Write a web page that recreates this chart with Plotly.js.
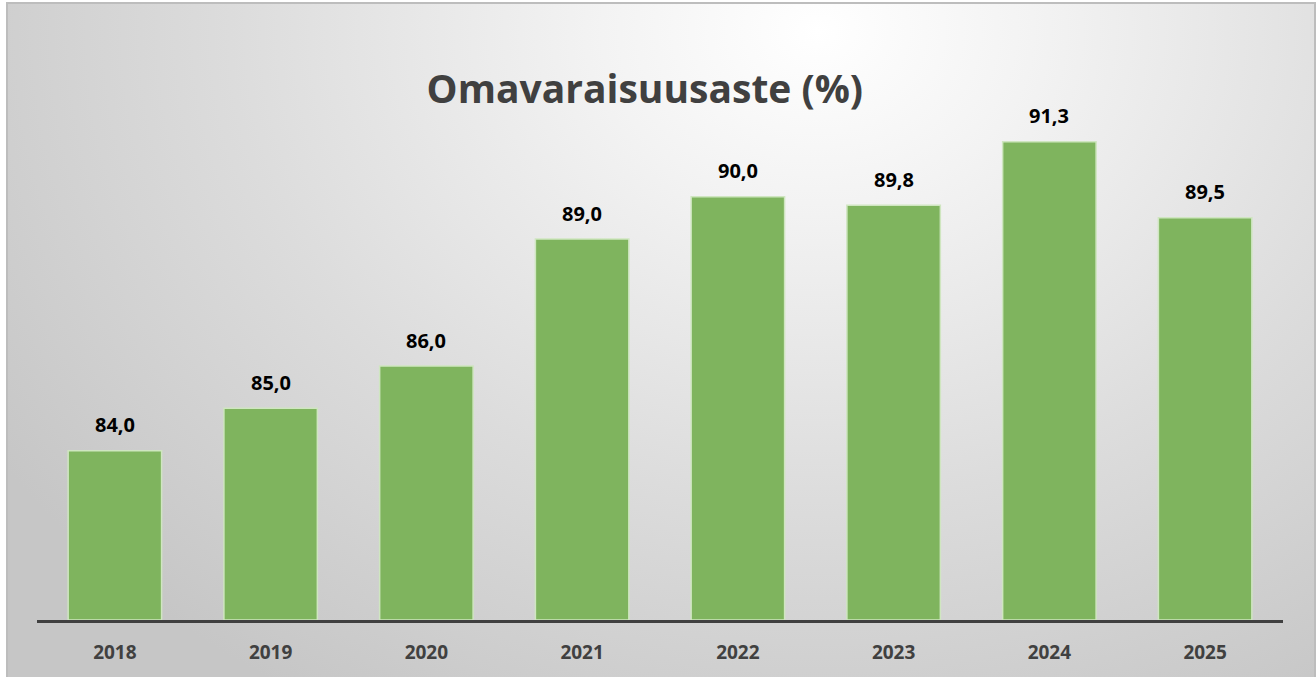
<!DOCTYPE html>
<html>
<head>
<meta charset="utf-8">
<script src="https://cdn.plot.ly/plotly-3.0.1.min.js"></script>
<style>
  html, body { margin: 0; padding: 0; background: #ffffff; }
  #wrap { position: relative; width: 1316px; height: 677px; overflow: hidden; }
  #frame {
    position: absolute; left: 6px; top: 2px; width: 1306px; height: 680px;
    border: 2px solid #bdbdbd;
    background: radial-gradient(ellipse 75% 115% at 62% 4%, #ffffff 0%, #f3f3f3 22%, #dcdcdc 60%, #c6c6c6 100%);
  }
  #chart { position: absolute; left: 0; top: 0; width: 1316px; height: 677px; }
</style>
</head>
<body>
<div id="wrap">
  <div id="frame"></div>
  <div id="chart"></div>
</div>
<script>
const years = ['2018', '2019', '2020', '2021', '2022', '2023', '2024', '2025'];
const equityRatio = [84.0, 85.0, 86.0, 89.0, 90.0, 89.8, 91.3, 89.5];
const chartTitle = 'Omavaraisuusaste (%)';
const baseValue = 80;

const FONT = '"Open Sans", "Noto Sans", sans-serif';

const trace = {
  type: 'bar',
  x: years,
  y: equityRatio.map(v => v - baseValue),
  base: baseValue,
  marker: { color: '#7fb45e', line: { color: '#cfe6c0', width: 1.5 } },
  hoverinfo: 'x+y'
};

// category index positions for the value labels
const labels = years.map((yr, i) => ({
  x: i, y: equityRatio[i], xref: 'x', yref: 'y',
  text: equityRatio[i].toFixed(1).replace('.', ','),
  showarrow: false, yanchor: 'middle', yshift: 26,
  font: { family: FONT, size: 20, color: '#000000', weight: 'bold' }
}));

const layout = {
  width: 1316, height: 677,
  paper_bgcolor: 'rgba(0,0,0,0)',
  plot_bgcolor: 'rgba(0,0,0,0)',
  margin: { l: 37, r: 33, t: 93, b: 57 },
  bargap: 0.4,
  showlegend: false,
  annotations: labels,
  title: {
    text: chartTitle,
    x: 0.49, xanchor: 'center',
    y: 0.868, yanchor: 'middle',
    font: { family: FONT, size: 39, color: '#404040', weight: 'bold' }
  },
  xaxis: {
    type: 'category',
    range: [-0.5, years.length - 0.5],
    showline: true, linecolor: '#404040', linewidth: 3,
    showgrid: false, zeroline: false, ticks: '',
    tickfont: { family: FONT, size: 19, color: '#404040', weight: 'bold' },
    ticklabelstandoff: 13
  },
  yaxis: {
    range: [80, 92.45],
    visible: false,
    showgrid: false, zeroline: false
  }
};

Plotly.newPlot('chart', [trace], layout, { displayModeBar: false, staticPlot: true });
</script>
</body>
</html>
